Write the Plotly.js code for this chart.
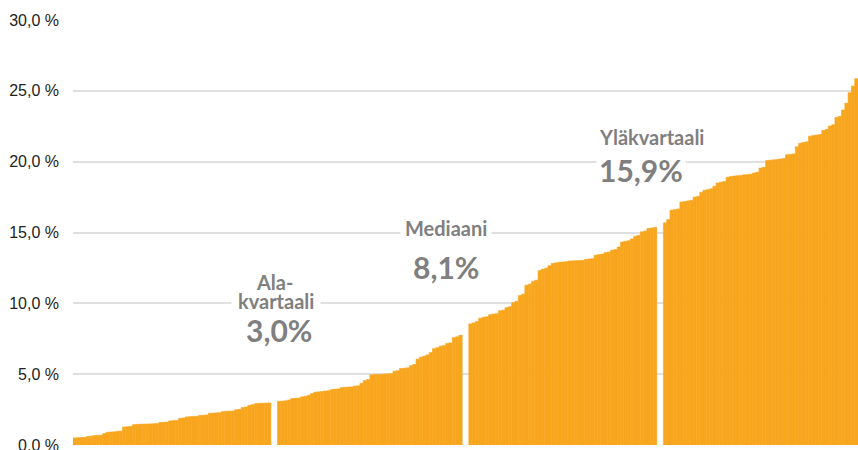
<!DOCTYPE html>
<html>
<head>
<meta charset="utf-8">
<script src="https://cdn.plot.ly/plotly-3.0.1.min.js"></script>
<style>html,body{margin:0;padding:0;background:#fff;}#chart{width:858px;height:450px;}</style>
</head>
<body>
<div id="chart"></div>
<script>
// Sorted values (%) per quartile group
var q1 = [0.50,0.52,0.53,0.54, 0.60,0.62, 0.67,0.68,0.69, 0.80, 0.90,0.92,0.93, 0.97,0.98,
  1.27,1.29,1.31, 1.44,1.46,1.47,1.48,1.48,1.49,1.50,1.51, 1.59,1.60,1.62, 1.70,1.72,1.74,
  1.88,1.90, 1.98,2.00,2.01,2.02, 2.09,2.10,2.12, 2.24,2.25,2.27,2.28, 2.36,2.38,2.39,2.40,
  2.49,2.51, 2.65,2.68, 2.80,2.85, 2.92,2.94,2.95,2.96,2.97];
var q2 = [3.08,3.10,3.12, 3.18, 3.28,3.30,3.32, 3.40,3.44, 3.51, 3.63, 3.73,3.75,3.77, 3.81,3.83,
  3.92,3.94,3.96, 4.05,4.07,4.09,4.10, 4.16,4.18, 4.36, 4.55,4.62, 4.95,4.97,4.98,4.99,
  5.01,5.02,5.04, 5.21,5.25, 5.40,5.42,5.45, 5.60,5.68, 6.06, 6.20,6.27, 6.36, 6.53,
  6.80,6.87, 6.98,7.02, 7.17,7.21, 7.58,7.64, 7.75];
var q3 = [8.55,8.62, 8.72, 8.95,9.02,9.05, 9.20,9.24,9.27, 9.48,9.52, 9.70,9.76, 10.05,10.15,
  10.55,10.65, 11.28,11.35, 11.55,11.63, 12.31, 12.42,12.48, 12.66, 12.82,12.86,
  12.90,12.92,12.94, 12.98,13.00,13.01,13.02,13.03, 13.10,13.13,13.15, 13.40,13.44,13.48,
  13.58,13.62, 13.76,13.80, 13.98, 14.33,14.38,14.42, 14.55, 14.74,14.80, 15.05,15.10,
  15.28,15.32,15.36];
var q4 = [15.68, 15.91, 16.58,16.62,16.66, 17.15,17.19,17.23,17.27, 17.50,17.55, 17.84,
  17.98,18.03,18.08, 18.27, 18.50,18.55,18.60, 18.90,18.95, 18.99,19.01,19.03,
  19.07,19.09,19.12, 19.20,19.25, 19.55,19.60, 20.08,20.10,20.13,20.16,20.19,20.22,
  20.48,20.51,20.55, 21.05, 21.30,21.35,21.40, 21.80,21.84,21.88,21.92, 22.20,22.28,
  22.52,22.60, 23.12,23.20, 23.64, 24.12, 24.87, 25.34, 25.86];

var tickVals = [0, 5, 10, 15, 20, 25, 30];
var tickText = ["0,0 %", "5,0 %", "10,0 %", "15,0 %", "20,0 %", "25,0 %", "30,0 %"];

var labels = [
  {text: "kvartaali", kind: "label"},
  {text: "Ala-", kind: "label"},
  {text: "3,0%", kind: "value"},
  {text: "Mediaani", kind: "label"},
  {text: "8,1%", kind: "value"},
  {text: "Yläkvartaali", kind: "label"},
  {text: "15,9%", kind: "value"}
];

// build x positions: groups separated by two empty slots
var groups = [q1, q2, q3, q4];
var xs = [], ys = [];
var pos = 0;
groups.forEach(function (g, gi) {
  g.forEach(function (v) { xs.push(pos); ys.push(v); pos++; });
  if (gi < groups.length - 1) pos += 2;
});
var nSlots = pos;

var barColor = "#F8A61E";
var trace = {
  type: "bar", x: xs, y: ys,
  marker: {color: barColor, line: {color: barColor, width: 0.6}},
  hoverinfo: "skip", showlegend: false
};

var W = 858, H = 450, ML = 73, MR = 0, MT = 20, MB = 5;
var PW = W - ML - MR, PH = H - MT - MB;
function px(xpx) { return (xpx - ML) / PW; }
function py(ypx) { return (H - MB - ypx) / PH; }

// placement (pixel centres) for each label
var place = [
  {x: 276, y: 301, bg: true, pad: 6},
  {x: 274, y: 282, bg: false, pad: 0},
  {x: 279, y: 330, bg: false, pad: 0},
  {x: 446, y: 228, bg: true, pad: 4},
  {x: 445.5, y: 267, bg: false, pad: 0},
  {x: 651, y: 137, bg: false, pad: 0},
  {x: 640.5, y: 170, bg: true, pad: 2}
];

var annotations = labels.map(function (l, i) {
  var p = place[i];
  return {
    xref: "paper", yref: "paper", x: px(p.x), y: py(p.y),
    xanchor: "center", yanchor: "middle", showarrow: false,
    text: l.text,
    font: {family: "Lato", size: l.kind === "value" ? 30 : 20, color: "#7f7f7f", weight: "bold"},
    bgcolor: p.bg ? "#ffffff" : "rgba(0,0,0,0)",
    borderpad: p.pad
  };
});

var layout = {
  width: W, height: H,
  margin: {l: ML, r: MR, t: MT, b: MB, pad: 0},
  paper_bgcolor: "#ffffff", plot_bgcolor: "#ffffff",
  bargap: 0,
  xaxis: {range: [-0.5, nSlots - 0.5], showgrid: false, zeroline: false,
          showticklabels: false, ticks: "", showline: false, fixedrange: true},
  yaxis: {range: [0, 30], tickvals: tickVals, ticktext: tickText,
          showgrid: true, gridcolor: "#e0e0e0", gridwidth: 2,
          zeroline: false, showline: false, ticks: "",
          ticklabelstandoff: 13, ticklabeloverflow: "allow",
          tickfont: {family: "Liberation Sans, Arial, sans-serif", size: 16, color: "#222222"},
          fixedrange: true},
  annotations: annotations
};

Plotly.newPlot("chart", [trace], layout, {displayModeBar: false, staticPlot: true});
</script>
</body>
</html>
